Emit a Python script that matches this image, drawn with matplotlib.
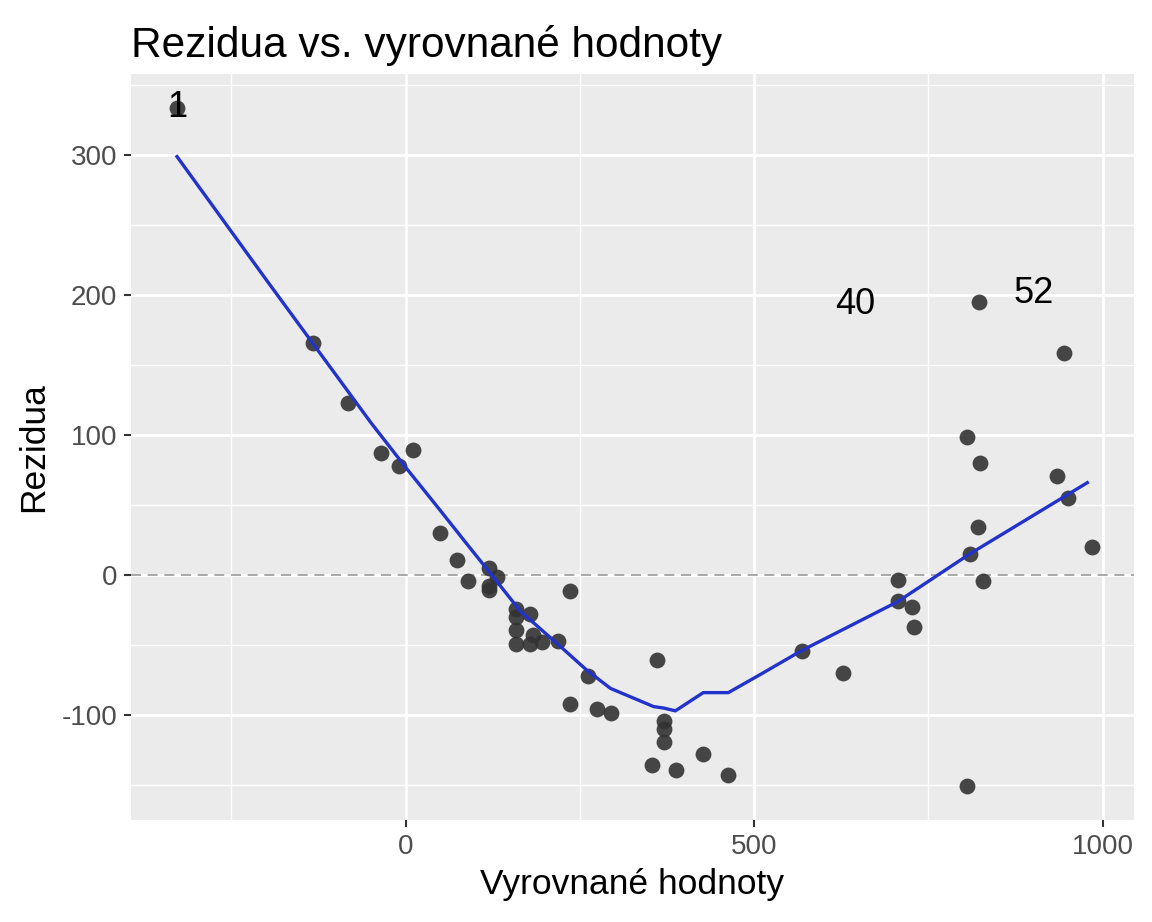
import numpy as np
import matplotlib.pyplot as plt

plt.rcParams['font.family'] = ['Liberation Sans', 'DejaVu Sans']
plt.rcParams['axes.unicode_minus'] = False

# fitted values and residuals
fitted = [-328, -133, -83, -36, -9, 10, 50, 73, 89, 120, 131, 120, 120,
          236, 159, 159, 178, 159, 159, 178, 183, 196, 218, 261, 236, 275,
          295, 361, 370, 370, 370, 354, 388, 427, 463,
          822, 944, 805, 824, 935, 950, 985, 821, 809, 828, 706, 706, 726,
          729, 568, 627, 805]
resid = [334, 166, 123, 87, 78, 89, 30, 11, -4, 5, -1.5, -8, -10.5,
         -11.5, -24, -30, -28, -39, -49, -49, -43, -48, -47, -72, -92, -96,
         -98.5, -61, -104, -110, -119, -136, -139, -128, -143,
         195, 159, 99, 80, 71, 55, 20, 34, 15, -4, -3.5, -18.5, -23,
         -37, -54, -70, -151]

# smoother curve
smooth_x = [-328, -200, -100, -50, 0, 50, 85, 122, 165, 222, 260, 294, 356, 370,
            387, 427, 463, 509, 568, 706, 809, 978]
smooth_y = [299, 211, 143, 109, 77, 46, 24, 1, -26, -51, -68, -81, -94, -95,
            -97, -84, -84, -71, -54, -19, 15, 66]

# point labels (as placed in the picture)
lab_text = ['1', '40', '52']
lab_x = [-328, 645, 901]
lab_y = [334, 193, 201]

fig = plt.figure(figsize=(11.52, 9.22), dpi=100)
ax = fig.add_axes([131 / 1152, 1 - 820 / 922, (1134 - 131) / 1152, (820 - 74) / 922])

ax.set_facecolor('#EBEBEB')
for s in ax.spines.values():
    s.set_visible(False)

ax.set_xlim(-394, 1045)
ax.set_ylim(-175, 358)
ax.set_xticks([0, 500, 1000])
ax.set_xticks([-250, 250, 750], minor=True)
ax.set_yticks([-100, 0, 100, 200, 300])
ax.set_yticks([-150, -50, 50, 150, 250, 350], minor=True)
ax.grid(which='major', color='white', linewidth=2.0)
ax.grid(which='minor', color='white', linewidth=1.0)
ax.set_axisbelow(True)
ax.tick_params(which='major', length=5, width=1.5, color='#333333',
               labelsize=20, labelcolor='#4D4D4D', pad=5)
ax.tick_params(which='minor', length=0)

ax.axhline(0, color='#999999', linestyle=(0, (6, 4)), linewidth=1.2, zorder=1.5)
ax.scatter(fitted, resid, s=130, color='#333333', alpha=0.9, linewidths=0, zorder=3)
ax.plot(smooth_x, smooth_y, color='#2233CC', linewidth=2.4, zorder=4)

for t, x, y in zip(lab_text, lab_x, lab_y):
    ax.text(x, y, t, fontsize=26, ha='center', va='center', color='black', zorder=5)

ax.set_xlabel('Vyrovnané hodnoty', fontsize=25.5, labelpad=6)
ax.set_ylabel('Rezidua', fontsize=25.5, labelpad=8)
ax.set_title('Rezidua vs. vyrovnané hodnoty', fontsize=30.5, loc='left', pad=12)

fig.savefig('out.png', dpi=100)
